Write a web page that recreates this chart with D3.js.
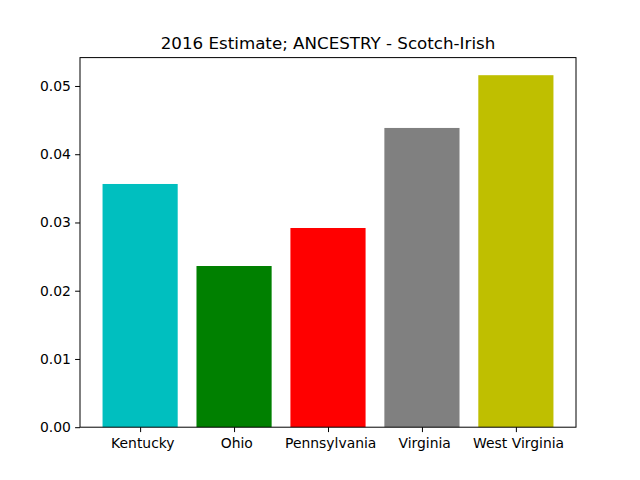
<!DOCTYPE html>
<html>
<head>
  <meta charset="utf-8">
  <script src="https://d3js.org/d3.v7.min.js"></script>
  <style>
  body { margin: 0; background: #fff; }
  text { font-family: "DejaVu Sans", sans-serif; fill: #000; }
  </style>
</head>
<body>
<div id="chart"></div>
<script>
// values
var states = [" Kentucky", " Ohio", " Pennsylvania", " Virginia", " West Virginia"];
var shares = [0.03564, 0.02362, 0.02919, 0.04385, 0.05158];
var colors = ["#00bfbf", "#008000", "#ff0000", "#808080", "#bfbf00"];
var yTicks = [0.00, 0.01, 0.02, 0.03, 0.04, 0.05];
var title = "2016 Estimate; ANCESTRY - Scotch-Irish";

var WIDTH = 640, HEIGHT = 480;
var LEFT = 80, RIGHT = 576, TOP = 57.6, BOTTOM = 427.2;

var svg = d3.select("#chart").append("svg")
  .attr("width", WIDTH)
  .attr("height", HEIGHT);

// bars centred on integer positions, width 0.8, 5% margins like matplotlib
var n = states.length;
var span = (n - 1 + 0.8);
var x = d3.scaleLinear()
  .domain([-0.4 - 0.05 * span, n - 1 + 0.4 + 0.05 * span])
  .range([LEFT, RIGHT]);
var y = d3.scaleLinear()
  .domain([0, d3.max(shares) * 1.05])
  .range([BOTTOM, TOP]);

svg.selectAll("rect.bar")
  .data(shares)
  .enter().append("rect")
  .attr("class", "bar")
  .attr("x", function(d, i) { return x(i - 0.4); })
  .attr("width", function(d, i) { return x(i + 0.4) - x(i - 0.4); })
  .attr("y", function(d) { return y(d); })
  .attr("height", function(d) { return BOTTOM - y(d); })
  .attr("fill", function(d, i) { return colors[i]; });

var xAxis = d3.axisBottom(x)
  .tickValues(d3.range(n))
  .tickFormat(function(i) { return states[i]; })
  .tickSize(4.9)
  .tickPadding(5.8);
var gx = svg.append("g")
  .attr("transform", "translate(0," + BOTTOM + ")")
  .call(xAxis);
gx.select(".domain").remove();
gx.selectAll("text").style("font-size", "13.9px").style("white-space", "pre")
  .attr("xml:space", "preserve");

var yAxis = d3.axisLeft(y)
  .tickValues(yTicks)
  .tickFormat(d3.format(".2f"))
  .tickSize(4.9)
  .tickPadding(4.2);
var gy = svg.append("g")
  .attr("transform", "translate(" + LEFT + ",0)")
  .call(yAxis);
gy.select(".domain").remove();
gy.selectAll("text").style("font-size", "13.9px");

svg.selectAll(".tick line").attr("stroke", "#000").attr("stroke-width", 1);

// axes frame
svg.append("rect")
  .attr("x", LEFT)
  .attr("y", TOP)
  .attr("width", RIGHT - LEFT)
  .attr("height", BOTTOM - TOP)
  .attr("fill", "none")
  .attr("stroke", "#000")
  .attr("stroke-width", 1);

svg.append("text")
  .attr("x", (LEFT + RIGHT) / 2)
  .attr("y", TOP - 8.3)
  .attr("text-anchor", "middle")
  .style("font-size", "16.7px")
  .text(title);
</script>
</body>
</html>
